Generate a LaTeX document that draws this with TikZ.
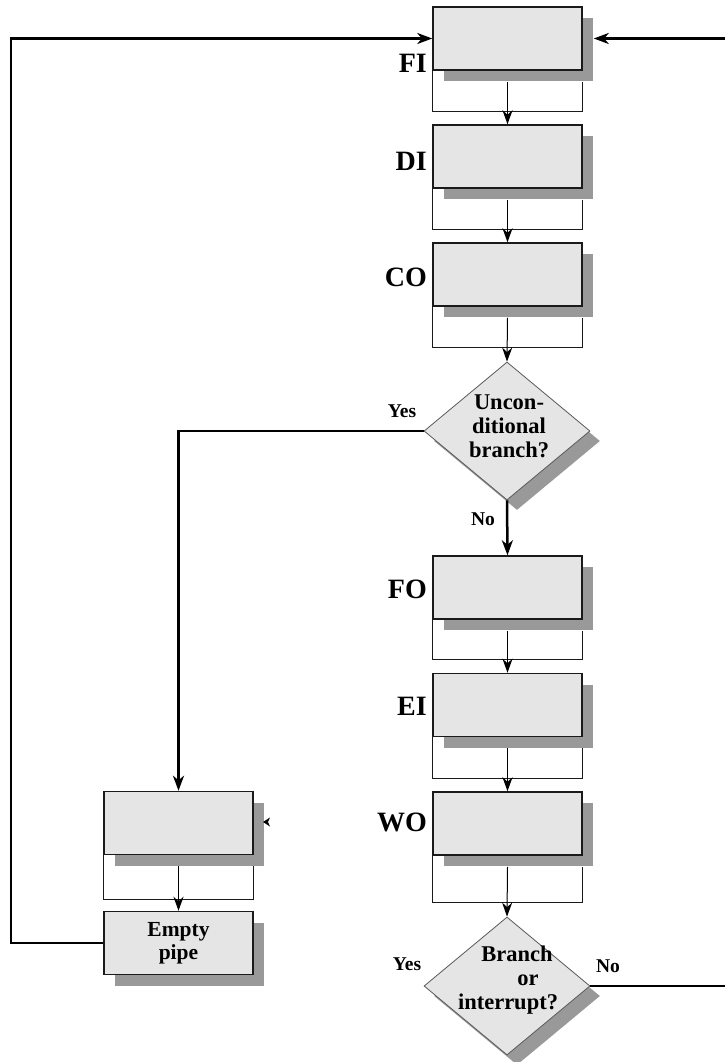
\documentclass[tikz,border=0pt]{standalone}
\usepackage{fontspec}
\setmainfont{Liberation Serif}
\usetikzlibrary{shapes.geometric,shadows,arrows.meta}
\definecolor{boxfill}{HTML}{E5E5E5}
\definecolor{shadowgray}{HTML}{999999}
\definecolor{edgedark}{HTML}{1A1A1A}
\begin{document}
\begin{tikzpicture}[x=1pt,y=-1pt,
  stage/.style={draw=edgedark, line width=1.5pt, fill=boxfill, rectangle,
    minimum width=149pt, minimum height=63pt, inner sep=0pt,
    font=\fontsize{21.5}{23.5}\selectfont\bfseries, align=center,
    drop shadow={opacity=1, fill=shadowgray, shadow xshift=11pt, shadow yshift=-11pt}},
  decision/.style={draw=black!65, line width=0.8pt, fill=boxfill, diamond,
    minimum width=166pt, minimum height=138pt, inner sep=-30pt, shape aspect=1.2,
    drop shadow={opacity=1, fill=shadowgray, shadow xshift=10pt, shadow yshift=-10pt}},
  dtext/.style={font=\fontsize{22.5}{24}\selectfont\bfseries, align=center, inner sep=0pt},
  stagelabel/.style={anchor=east, inner sep=0pt, font=\fontsize{28}{30}\selectfont\bfseries},
  answer/.style={inner sep=0pt, font=\fontsize{19.5}{21}\selectfont\bfseries},
  frameline/.style={draw=edgedark, line width=1pt},
  thinarrow/.style={draw=black, line width=1pt, -{Stealth[length=14pt,width=10pt,inset=4.5pt]}},
  thickarrow/.style={draw=black, line width=2.5pt, -{Stealth[length=15pt,width=11pt,inset=4.5pt]}},
  thickline/.style={draw=black, line width=2.5pt}
]
\useasboundingbox (0,0) rectangle (724,1062);

% main column stages
\node[stage] (FI) at (507.5,38.5) {};
\node[stage] (DI) at (507.5,156.5) {};
\node[stage] (CO) at (507.5,274.5) {};
\node[decision] (D1) at (507,431) {};
\node[dtext] (D1t) at (509,426) {Uncon-\\ditional\\branch?};
\node[stage] (FO) at (507.5,587.5) {};
\node[stage] (EI) at (507.5,705) {};
\node[stage] (WO) at (507.5,823.5) {};
\node[decision] (D2) at (507,986) {};
\node[dtext] (D2t) at (508,980) {\hspace*{18pt}Branch\\\hspace*{40pt}or\\interrupt?};

% left column
\node[stage] (LB) at (178.5,823) {};
\node[stage] (EP) at (178.5,943) {Empty\\pipe};

% stage labels
\node[stagelabel] (lFI) at (427,63) {FI};
\node[stagelabel] (lDI) at (427,161) {DI};
\node[stagelabel] (lCO) at (427,277) {CO};
\node[stagelabel] (lFO) at (427,589) {FO};
\node[stagelabel] (lEI) at (427,706) {EI};
\node[stagelabel] (lWO) at (427,822) {WO};

% answers
\node[answer] (y1) at (402,411) {Yes};
\node[answer] (n1) at (483,519) {No};
\node[answer] (y2) at (407,964) {Yes};
\node[answer] (n2) at (608,966) {No};

% frames below the stages
\foreach \b/\d in {FI/41, DI/41, CO/41, FO/40, EI/41, WO/47, LB/44} {
  \draw[frameline] (\b.south west) -- ++(0,\d) -| ([yshift=-11pt]\b.south east);
}

% stage-to-stage arrows
\draw[thinarrow] ([yshift=-11pt]FI.south) -- (DI.north);
\draw[thinarrow] ([yshift=-11pt]DI.south) -- (CO.north);
\draw[thinarrow] ([yshift=-11pt]CO.south) -- (D1.north);
\draw[thickarrow] (D1.south) -- (FO.north);
\draw[thinarrow] ([yshift=-11pt]FO.south) -- (EI.north);
\draw[thinarrow] ([yshift=-11pt]EI.south) -- (WO.north);
\draw[thinarrow] ([yshift=-11pt]WO.south) -- (D2.north);
\draw[thinarrow] ([yshift=-11pt]LB.south) -- (EP.north);

% branch paths
\draw[thickarrow] (D1.west) -| (LB.north);
\coordinate (lcorner) at (11,38.5);
\draw[thickarrow] (EP.west) -| (lcorner) -- (FI.west);
\coordinate (rcorner) at (740,38.5);
\draw[thickarrow] (D2.east) -| (rcorner) -- ([xshift=11pt]FI.east);

% small stray arrow tip beside the left box
\fill[black] (263,822) -- (270,817.5) -- (268,822) -- (270,826.5) -- cycle;
\end{tikzpicture}
\end{document}
